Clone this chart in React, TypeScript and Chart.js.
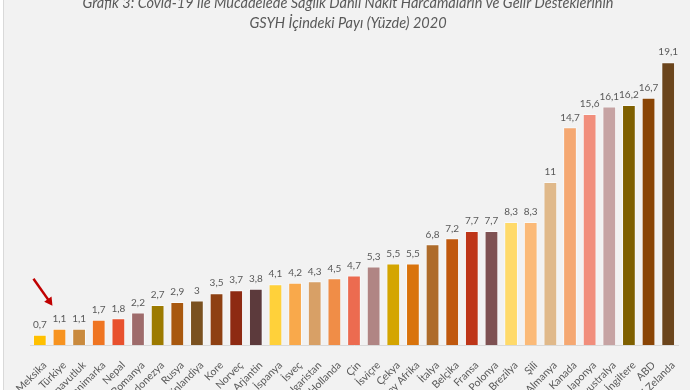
import React, { useEffect, useRef } from "react";
import { Chart, registerables } from "chart.js";

Chart.register(...registerables);

const countries = [
  "Meksika", "Türkiye", "Arnavutluk", "Danimarka", "Nepal", "Romanya", "Endonezya", "Rusya",
  "Finlandiya", "Kore", "Norveç", "Arjantin", "İspanya", "İsveç", "Bulgaristan", "Hollanda",
  "Çin", "İsviçre", "Çekya", "Güney Afrika", "İtalya", "Belçika", "Fransa", "Polonya",
  "Brezilya", "Şili", "Almanya", "Kanada", "Japonya", "Avustralya", "İngiltere", "ABD", "Yeni Zelanda",
];

const shares = [
  0.7, 1.1, 1.1, 1.7, 1.8, 2.2, 2.7, 2.9, 3, 3.5, 3.7, 3.8, 4.1, 4.2, 4.3, 4.5,
  4.7, 5.3, 5.5, 5.5, 6.8, 7.2, 7.7, 7.7, 8.3, 8.3, 11, 14.7, 15.6, 16.1, 16.2, 16.7, 19.1,
];

const barColors = [
  "#FFC000", "#F79320", "#C98A3E", "#EF7522", "#E8512E", "#9E6B6B", "#9C7A00", "#A8580F",
  "#7A5120", "#8E4012", "#8E2A12", "#5C3A3C", "#FFD13A", "#F9A94B", "#D8A066", "#F08D47",
  "#EC6B50", "#B08584", "#D4A500", "#D9730C", "#AE6B2A", "#C0580E", "#BE3518", "#7E5152",
  "#FFDA6A", "#FBBA78", "#E0B98A", "#F5A872", "#F18E7C", "#C6A3A3", "#7F6000", "#8A4506", "#6B451C",
];

const titleLines = [
  "Grafik 3: Covid-19 ile Mücadelede Sağlık Dahil Nakit Harcamaların ve Gelir Desteklerinin",
  "GSYH İçindeki Payı (Yüzde) 2020",
];

const highlightIndex = 1;

const bgPlugin = {
  id: "bgPlugin",
  beforeDraw(chart: any) {
    const { ctx, width, height } = chart;
    ctx.save();
    ctx.fillStyle = "#f2f2f2";
    ctx.fillRect(0, 0, width, height);
    ctx.fillStyle = "#ffffff";
    ctx.fillRect(0, 0, 3, height);
    ctx.strokeStyle = "#d9d9d9";
    ctx.lineWidth = 1;
    ctx.beginPath();
    ctx.moveTo(3.5, 0);
    ctx.lineTo(3.5, height);
    ctx.stroke();
    ctx.restore();
  },
};

const titlePlugin = {
  id: "titlePlugin",
  afterDraw(chart: any) {
    const { ctx } = chart;
    ctx.save();
    ctx.fillStyle = "#595959";
    ctx.textAlign = "center";
    ctx.textBaseline = "middle";
    ctx.font = "italic 14.5px Lato";
    ctx.fillText(titleLines[0], 348, 3);
    ctx.fillText(titleLines[1], 348, 23);
    ctx.restore();
  },
};

const valueLabelPlugin = {
  id: "valueLabelPlugin",
  afterDatasetsDraw(chart: any) {
    const { ctx } = chart;
    const meta = chart.getDatasetMeta(0);
    ctx.save();
    ctx.fillStyle = "#595959";
    ctx.font = "10px Lato";
    ctx.textAlign = "center";
    ctx.textBaseline = "middle";
    meta.data.forEach((bar: any, i: number) => {
      const txt = String(shares[i]).replace(".", ",");
      ctx.fillText(txt, bar.x, bar.y - 10);
    });
    const hb = meta.data[highlightIndex];
    if (hb) {
      const tipX = hb.x - 7;
      const tipY = hb.y - 23;
      const tailX = tipX - 19;
      const tailY = tipY - 27;
      const ang = Math.atan2(tipY - tailY, tipX - tailX);
      ctx.strokeStyle = "#C00000";
      ctx.fillStyle = "#C00000";
      ctx.lineWidth = 2.5;
      ctx.beginPath();
      ctx.moveTo(tailX, tailY);
      ctx.lineTo(tipX - 5 * Math.cos(ang), tipY - 5 * Math.sin(ang));
      ctx.stroke();
      const hl = 8;
      const hw = 4.5;
      ctx.beginPath();
      ctx.moveTo(tipX, tipY);
      ctx.lineTo(
        tipX - hl * Math.cos(ang) + hw * Math.sin(ang),
        tipY - hl * Math.sin(ang) - hw * Math.cos(ang)
      );
      ctx.lineTo(
        tipX - hl * Math.cos(ang) - hw * Math.sin(ang),
        tipY - hl * Math.sin(ang) + hw * Math.cos(ang)
      );
      ctx.closePath();
      ctx.fill();
    }
    ctx.restore();
  },
};

export default function App() {
  const canvasRef = useRef<HTMLCanvasElement | null>(null);

  useEffect(() => {
    if (!canvasRef.current) return;
    const chart = new Chart(canvasRef.current, {
      type: "bar",
      data: {
        labels: countries,
        datasets: [
          {
            data: shares,
            backgroundColor: barColors,
            borderColor: "rgba(255,255,255,0.55)",
            borderWidth: 1,
            barPercentage: 0.7,
            categoryPercentage: 1,
          },
        ],
      },
      options: {
        animation: false,
        responsive: false,
        maintainAspectRatio: false,
        layout: { padding: { left: 30, right: 12, top: 34, bottom: 0 } },
        plugins: {
          legend: { display: false },
          title: { display: false },
          tooltip: { enabled: false },
        },
        scales: {
          x: {
            grid: { display: false },
            border: { display: true, color: "#d9d9d9", width: 1 },
            ticks: {
              color: "#595959",
              font: { family: "Lato", size: 10.5 },
              minRotation: 45,
              maxRotation: 45,
              autoSkip: false,
              padding: 6,
              labelOffset: 5,
            },
            afterFit(scale: any) {
              scale.height = 45;
              scale.paddingLeft = 0;
              scale.paddingRight = 0;
            },
          },
          y: {
            display: false,
            min: 0,
            max: 21,
          },
        },
      },
      plugins: [bgPlugin, valueLabelPlugin, titlePlugin],
    });
    return () => chart.destroy();
  }, []);

  return (
    <div style={{ position: "fixed", left: 0, top: 0, width: 690, height: 390, background: "#f2f2f2" }}>
      <canvas ref={canvasRef} width={690} height={390} style={{ display: "block", width: 690, height: 390 }} />
    </div>
  );
}
